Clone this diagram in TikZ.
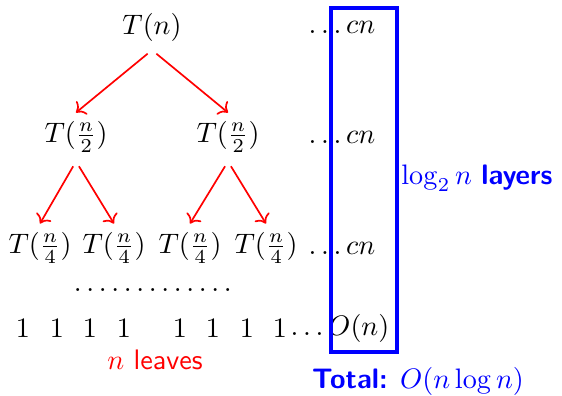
\documentclass[tikz,border=0pt]{standalone}
\usetikzlibrary{arrows.meta,positioning}
\tikzset{>=To,rec/.style={red,semithick,->,shorten <=2pt},lvl/.style={inner sep=3pt},leaf/.style={inner xsep=0pt,inner ysep=3pt}}

\begin{document}
\begin{tikzpicture}[x=0.355pt,y=-0.355pt]
\useasboundingbox (0,0) rectangle (562,395);
\node[lvl] (root) at (152,27){$T(n)$};
\node[lvl] (l) at (76,137){$T(\frac{n}{2})$};\node[lvl] (r) at (228,137){$T(\frac{n}{2})$};
\foreach \x/\nm in {40/ll,114/lr,190/rl,266/rr} \node[leaf] (\nm) at (\x,248){$T(\frac{n}{4})$};
\draw[rec] (root.south)--(l.north);\draw[rec] (root.south)--(r.north);
\draw[rec] (l.south)--(ll.north);\draw[rec] (l.south)--(lr.north);
\draw[rec] (r.south)--(rl.north);\draw[rec] (r.south)--(rr.north);
% cost of each level
\foreach \y/\nm in {27/c1,137/c2,248/c3} \node (\nm) at (342,\y){$\ldots cn$};
\node (dots) at (153,290){$\ldots\ldots\ldots\ldots\ldotp$};
\foreach \x [count=\i] in {23,57,90,124,180,213,247,280} \node[leaf] (one\i) at (\x,328){$1$};
\node[inner xsep=0pt] (c4) at (340,328){$\ldots O(n)$};
\node[red] (leaves) at (155,360){$n$ \textsf{leaves}};
\draw[blue,line width=1.1pt] (331,8) rectangle (397,352);
\node[blue,anchor=west,inner sep=1pt] (layers) at (398,178){$\log_2 n$ \textsf{\bfseries layers}};
\node[blue] (total) at (418,381){\textsf{\bfseries Total:} $O(n\log n)$};
\end{tikzpicture}
\end{document}
